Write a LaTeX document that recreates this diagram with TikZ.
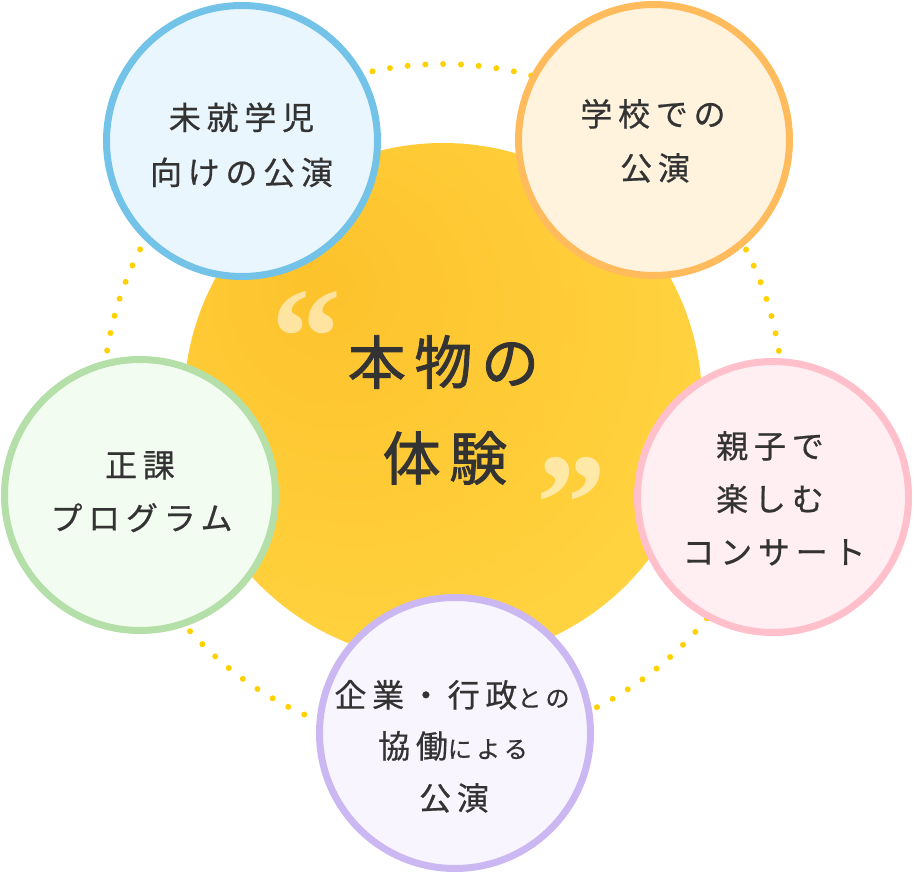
\documentclass[tikz,border=0pt]{standalone}
\usepackage{fontspec}
\newfontfamily\jp[LetterSpace=18,FakeBold=0.6]{Noto Sans CJK JP}
\newfontfamily\jpmain[LetterSpace=15,FakeBold=1.4]{Noto Sans CJK JP}
\newfontfamily\qf{Liberation Serif}
\definecolor{ink}{HTML}{333333}
\definecolor{dotc}{HTML}{FFD100}
\definecolor{blueB}{HTML}{72C3E7}\definecolor{blueF}{HTML}{EAF6FD}
\definecolor{oranB}{HTML}{FFBB5C}\definecolor{oranF}{HTML}{FFF3DE}
\definecolor{pinkB}{HTML}{FFC0CC}\definecolor{pinkF}{HTML}{FFEEF2}
\definecolor{grenB}{HTML}{B4DFA8}\definecolor{grenF}{HTML}{F3FCF0}
\definecolor{purpB}{HTML}{CBB8F2}\definecolor{purpF}{HTML}{F8F5FE}
\definecolor{sunA}{HTML}{FDC22C}
\definecolor{sunB}{HTML}{FFCF3A}
\definecolor{sunC}{HTML}{FFDF55}
\pgfdeclareradialshading{sunshade}{\pgfpoint{-12bp}{12bp}}{color(0bp)=(sunA); color(25bp)=(sunB); color(60bp)=(sunC); color(70bp)=(sunC)}
\tikzset{
  bubble/.style={circle, minimum size=271pt, line width=7pt, inner sep=0pt},
  lbl/.style={anchor=base, inner sep=0pt, text=ink, font=\jp\fontsize{32}{32}\selectfont},
  big/.style={anchor=base, inner sep=0pt, text=ink, font=\jpmain\fontsize{58}{58}\selectfont},
  qmark/.style={inner sep=0pt, text=white, text opacity=0.55, font=\qf\bfseries\fontsize{140}{140}\selectfont},
  ringdots/.style={draw=dotc, line width=6pt, line cap=round, dash pattern=on 0pt off 17.8pt},
}
\newcommand{\sm}[1]{{\fontsize{24}{24}\selectfont #1}}
\begin{document}
\begin{tikzpicture}[x=1pt,y=-1pt]
\useasboundingbox (0,0) rectangle (914,874);
% central sun
\node[circle, minimum size=518pt, inner sep=0pt, shading=sunshade] (sun) at (443,402) {};
% dotted ring
\node[circle, minimum size=680pt, inner sep=0pt, ringdots] (ring) at (443,404) {};
% quote marks
\node[qmark] (qo) at (306.5,337.5) {“};
\node[qmark] (qc) at (571.5,503.5) {”};
% main text
\node[big] (m1) at (443.5,384) {本物の};
\node[big] (m2) at (445,480) {体験};
% bubbles
\node[bubble, draw=blueB, fill=blueF] (blue) at (242,141) {};
\node[bubble, draw=oranB, fill=oranF] (oran) at (654,140) {};
\node[bubble, draw=pinkB, fill=pinkF] (pink) at (773,497) {};
\node[bubble, draw=grenB, fill=grenF] (gren) at (140,495) {};
\node[bubble, draw=purpB, fill=purpF] (purp) at (455,733) {};
% labels
\node[lbl] (b1) at (241.5,129.5) {未就学児};
\node[lbl] (b2) at (241.5,184.5) {向けの公演};
\node[lbl] (o1) at (653,126) {学校での};
\node[lbl] (o2) at (655,180) {公演};
\node[lbl] (p1) at (770,458) {親子で};
\node[lbl] (p2) at (770,511) {楽しむ};
\node[lbl] (p3) at (774,564) {コンサート};
\node[lbl] (g1) at (140,477) {正課};
\node[lbl] (g2) at (141.5,530) {プログラム};
\node[lbl] (u1) at (452,707) {企業・行政\sm{との}};
\node[lbl] (u2) at (453,758) {協働\sm{による}};
\node[lbl] (u3) at (454,810) {公演};
\end{tikzpicture}
\end{document}
